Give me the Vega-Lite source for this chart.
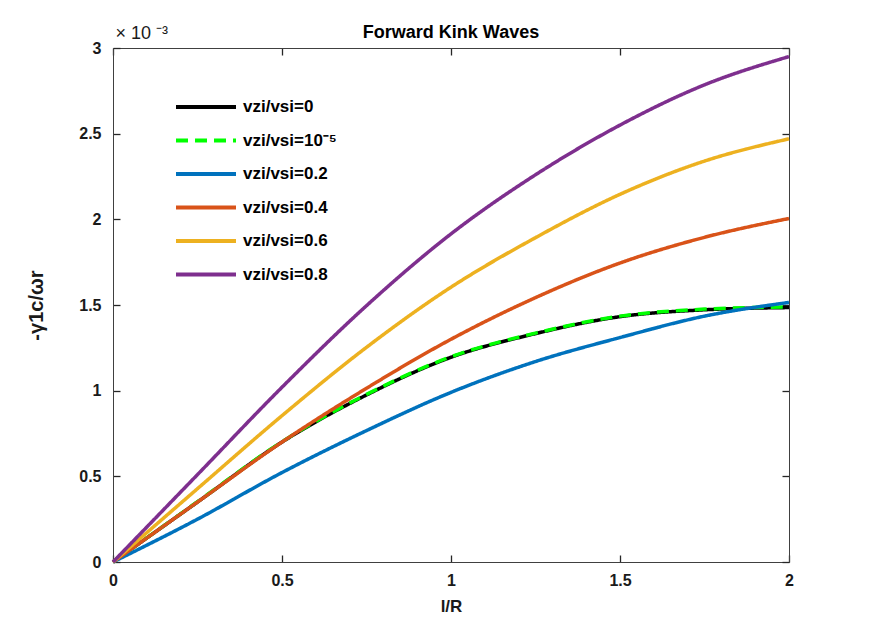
{
  "$schema": "https://vega.github.io/schema/vega-lite/v6.json",
  "width": 676,
  "height": 514,
  "autosize": "none",
  "padding": {"left": 113, "top": 48, "right": 83, "bottom": 70},
  "background": "white",
  "config": {
    "view": {"stroke": null},
    "font": "Liberation Sans",
    "axis": {
      "grid": false,
      "domainColor": "#404040",
      "domainWidth": 1,
      "tickColor": "#262626",
      "tickWidth": 1.3,
      "labelFont": "Liberation Sans",
      "labelFontSize": 16,
      "labelFontWeight": "bold",
      "labelColor": "#1a1a1a",
      "titleFont": "Liberation Sans",
      "titleFontWeight": "bold",
      "titleColor": "#1a1a1a"
    }
  },
  "title": {
    "text": "Forward Kink Waves",
    "fontSize": 18,
    "fontWeight": "bold",
    "font": "Liberation Sans",
    "color": "#000000",
    "anchor": "middle",
    "offset": -18
  },
  "data": {
    "values": [
      {"lr": 0, "g": 0, "s": "vzi/vsi=0"},
      {"lr": 0.25, "g": 0.35, "s": "vzi/vsi=0"},
      {"lr": 0.5, "g": 0.70, "s": "vzi/vsi=0"},
      {"lr": 0.75, "g": 0.975, "s": "vzi/vsi=0"},
      {"lr": 1.0, "g": 1.195, "s": "vzi/vsi=0"},
      {"lr": 1.25, "g": 1.333, "s": "vzi/vsi=0"},
      {"lr": 1.5, "g": 1.432, "s": "vzi/vsi=0"},
      {"lr": 1.75, "g": 1.472, "s": "vzi/vsi=0"},
      {"lr": 2.0, "g": 1.485, "s": "vzi/vsi=0"},
      {"lr": 0, "g": 0, "s": "vzi/vsi=10⁻⁵"},
      {"lr": 0.25, "g": 0.352, "s": "vzi/vsi=10⁻⁵"},
      {"lr": 0.5, "g": 0.702, "s": "vzi/vsi=10⁻⁵"},
      {"lr": 0.75, "g": 0.978, "s": "vzi/vsi=10⁻⁵"},
      {"lr": 1.0, "g": 1.198, "s": "vzi/vsi=10⁻⁵"},
      {"lr": 1.25, "g": 1.336, "s": "vzi/vsi=10⁻⁵"},
      {"lr": 1.5, "g": 1.435, "s": "vzi/vsi=10⁻⁵"},
      {"lr": 1.75, "g": 1.476, "s": "vzi/vsi=10⁻⁵"},
      {"lr": 2.0, "g": 1.489, "s": "vzi/vsi=10⁻⁵"},
      {"lr": 0, "g": 0, "s": "vzi/vsi=0.2"},
      {"lr": 0.25, "g": 0.25, "s": "vzi/vsi=0.2"},
      {"lr": 0.5, "g": 0.522, "s": "vzi/vsi=0.2"},
      {"lr": 0.75, "g": 0.767, "s": "vzi/vsi=0.2"},
      {"lr": 1.0, "g": 0.99, "s": "vzi/vsi=0.2"},
      {"lr": 1.25, "g": 1.17, "s": "vzi/vsi=0.2"},
      {"lr": 1.5, "g": 1.31, "s": "vzi/vsi=0.2"},
      {"lr": 1.75, "g": 1.435, "s": "vzi/vsi=0.2"},
      {"lr": 2.0, "g": 1.515, "s": "vzi/vsi=0.2"},
      {"lr": 0, "g": 0, "s": "vzi/vsi=0.4"},
      {"lr": 0.25, "g": 0.35, "s": "vzi/vsi=0.4"},
      {"lr": 0.5, "g": 0.70, "s": "vzi/vsi=0.4"},
      {"lr": 0.75, "g": 1.014, "s": "vzi/vsi=0.4"},
      {"lr": 1.0, "g": 1.30, "s": "vzi/vsi=0.4"},
      {"lr": 1.25, "g": 1.543, "s": "vzi/vsi=0.4"},
      {"lr": 1.5, "g": 1.745, "s": "vzi/vsi=0.4"},
      {"lr": 1.75, "g": 1.895, "s": "vzi/vsi=0.4"},
      {"lr": 2.0, "g": 2.005, "s": "vzi/vsi=0.4"},
      {"lr": 0, "g": 0, "s": "vzi/vsi=0.6"},
      {"lr": 0.25, "g": 0.428, "s": "vzi/vsi=0.6"},
      {"lr": 0.5, "g": 0.854, "s": "vzi/vsi=0.6"},
      {"lr": 0.75, "g": 1.253, "s": "vzi/vsi=0.6"},
      {"lr": 1.0, "g": 1.604, "s": "vzi/vsi=0.6"},
      {"lr": 1.25, "g": 1.893, "s": "vzi/vsi=0.6"},
      {"lr": 1.5, "g": 2.146, "s": "vzi/vsi=0.6"},
      {"lr": 1.75, "g": 2.34, "s": "vzi/vsi=0.6"},
      {"lr": 2.0, "g": 2.47, "s": "vzi/vsi=0.6"},
      {"lr": 0, "g": 0, "s": "vzi/vsi=0.8"},
      {"lr": 0.25, "g": 0.51, "s": "vzi/vsi=0.8"},
      {"lr": 0.5, "g": 1.02, "s": "vzi/vsi=0.8"},
      {"lr": 0.75, "g": 1.496, "s": "vzi/vsi=0.8"},
      {"lr": 1.0, "g": 1.915, "s": "vzi/vsi=0.8"},
      {"lr": 1.25, "g": 2.26, "s": "vzi/vsi=0.8"},
      {"lr": 1.5, "g": 2.55, "s": "vzi/vsi=0.8"},
      {"lr": 1.75, "g": 2.785, "s": "vzi/vsi=0.8"},
      {"lr": 2.0, "g": 2.95, "s": "vzi/vsi=0.8"}
    ]
  },
  "layer": [
    {
      "mark": {"type": "line", "strokeWidth": 3.5, "interpolate": "monotone"},
      "encoding": {
        "x": {
          "field": "lr",
          "type": "quantitative",
          "scale": {"domain": [0, 2], "nice": false},
          "axis": {
            "title": "l/R",
            "titleFontSize": 17,
            "titlePadding": 10,
            "values": [0, 0.5, 1, 1.5, 2],
            "format": "~g",
            "tickSize": -7,
            "labelPadding": 17,
            "labelFlush": false
          }
        },
        "y": {
          "field": "g",
          "type": "quantitative",
          "scale": {"domain": [0, 3], "nice": false},
          "axis": {
            "title": "-γ1c/ωr",
            "titleFontSize": 20,
            "titlePadding": 32,
            "values": [0, 0.5, 1, 1.5, 2, 2.5, 3],
            "format": "~g",
            "tickSize": -7,
            "labelPadding": 19,
            "labelFlush": false
          }
        },
        "color": {
          "field": "s",
          "type": "nominal",
          "scale": {
            "domain": ["vzi/vsi=0", "vzi/vsi=10⁻⁵", "vzi/vsi=0.2", "vzi/vsi=0.4", "vzi/vsi=0.6", "vzi/vsi=0.8"],
            "range": ["#000000", "#00ff00", "#0072bd", "#d95319", "#edb120", "#7e2f8e"]
          },
          "legend": {
            "title": null,
            "orient": "none",
            "legendX": 81,
            "legendY": 47,
            "symbolType": "M-3,0H3",
            "symbolSize": 400,
            "symbolStrokeWidth": 4,
            "labelFont": "Liberation Sans",
            "labelFontSize": 17,
            "labelFontWeight": "bold",
            "labelColor": "#000000",
            "labelOffset": 25,
            "rowPadding": 13.5
          }
        },
        "strokeDash": {
          "field": "s",
          "type": "nominal",
          "scale": {
            "domain": ["vzi/vsi=0", "vzi/vsi=10⁻⁵", "vzi/vsi=0.2", "vzi/vsi=0.4", "vzi/vsi=0.6", "vzi/vsi=0.8"],
            "range": [[1, 0], [12, 7], [1, 0], [1, 0], [1, 0], [1, 0]]
          },
          "legend": null
        }
      }
    },
    {
      "mark": {"type": "line", "opacity": 0},
      "encoding": {
        "x": {
          "field": "lr",
          "type": "quantitative",
          "scale": {"domain": [0, 2], "nice": false},
          "axis": {
            "orient": "top",
            "labels": false,
            "tickSize": -7,
            "values": [0, 0.5, 1, 1.5, 2],
            "title": "× 10 ⁻³",
            "titleFontSize": 18,
            "titleFontWeight": "normal",
            "titleAnchor": "start",
            "titleAlign": "left",
            "titleX": 2,
            "titleY": -6
          }
        },
        "y": {
          "field": "g",
          "type": "quantitative",
          "scale": {"domain": [0, 3], "nice": false},
          "axis": {
            "orient": "right",
            "labels": false,
            "tickSize": -7,
            "values": [0, 0.5, 1, 1.5, 2, 2.5, 3],
            "title": null
          }
        },
        "detail": {"field": "s", "type": "nominal"}
      }
    }
  ],
  "resolve": {"axis": {"x": "independent", "y": "independent"}}
}
